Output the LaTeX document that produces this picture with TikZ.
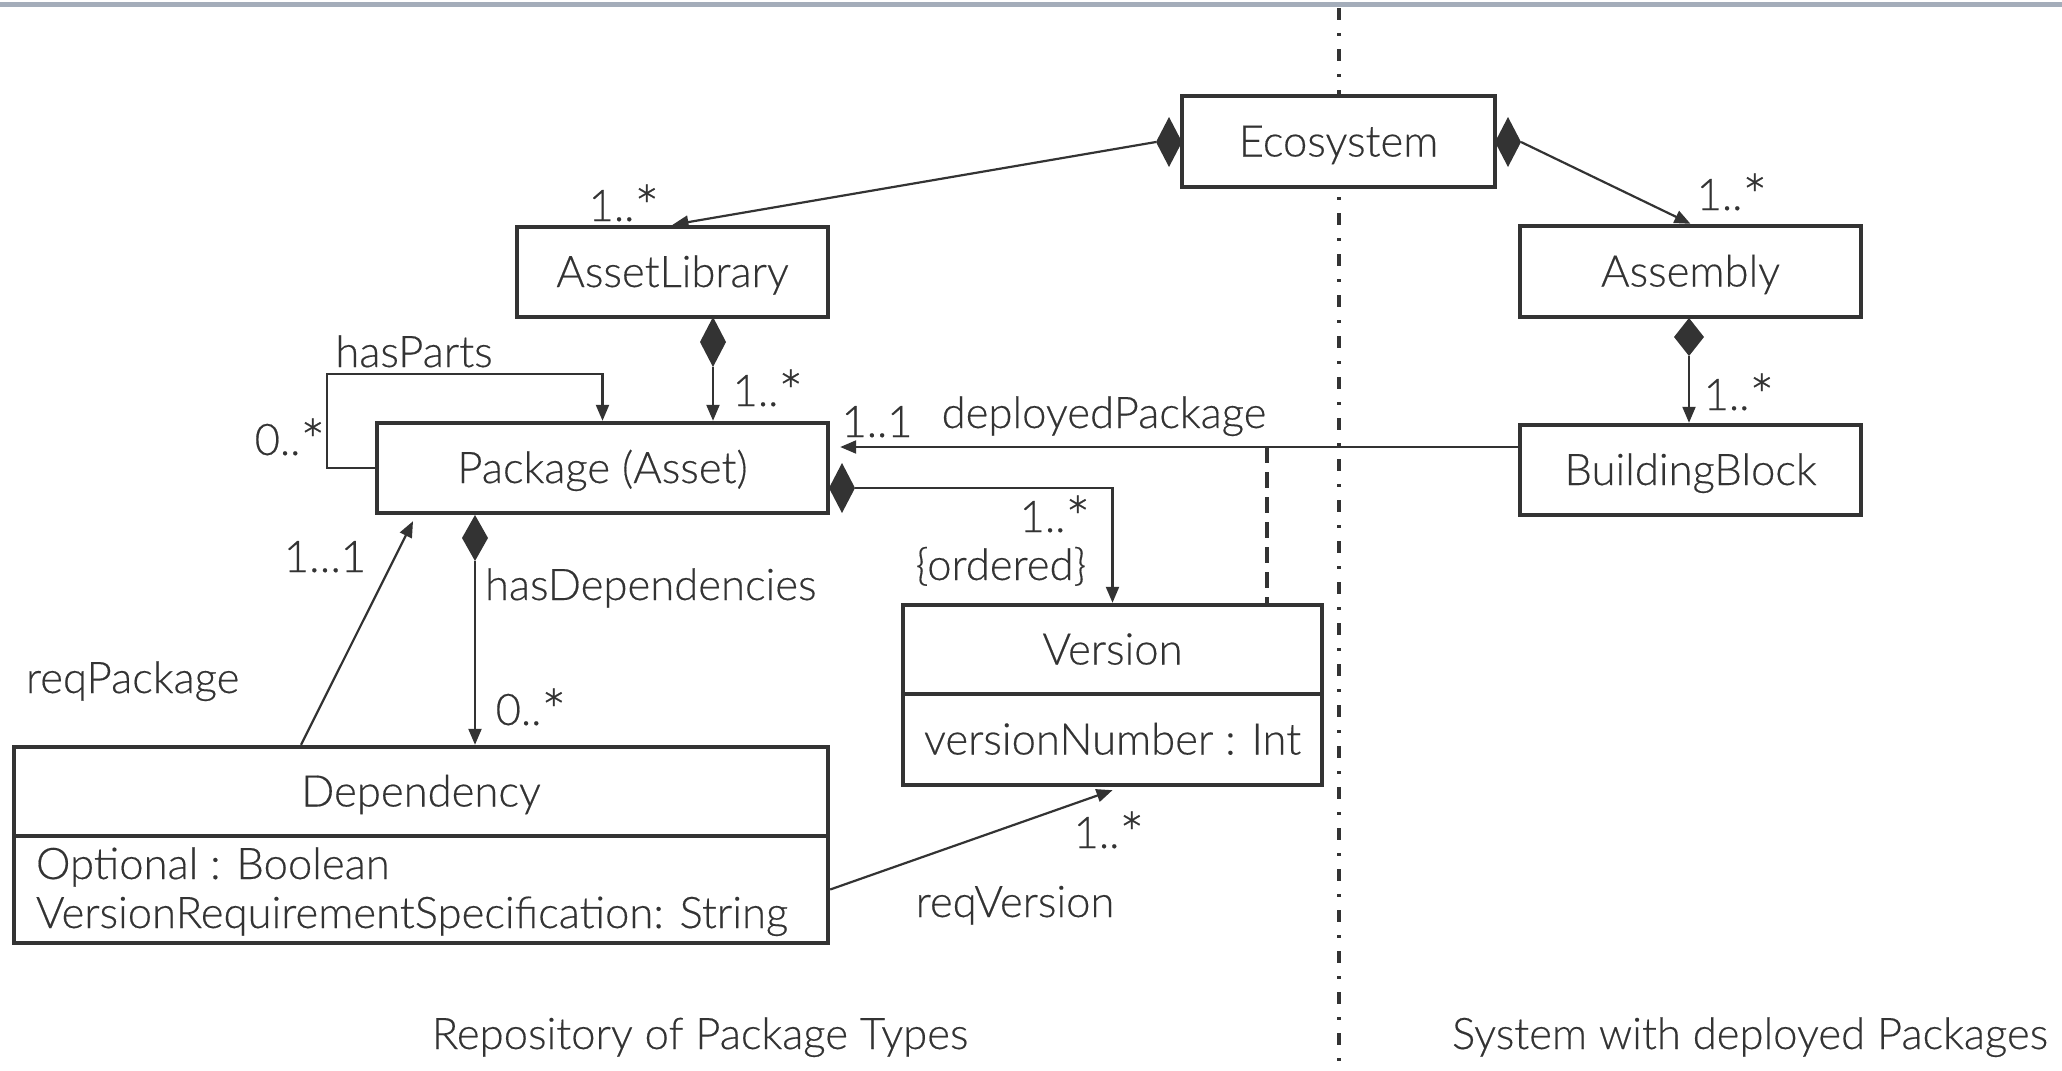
\documentclass[tikz,border=0pt]{standalone}
\usepackage{fontspec}
\setmainfont{Lato Light}[FakeBold=0.35]
\usetikzlibrary{arrows.meta,shapes.geometric,calc}
\definecolor{ink}{HTML}{333333}
\definecolor{barc}{HTML}{A4ADBA}
\newcommand\mstar{\raisebox{-0.17em}{\scalebox{1.35}{*}}}
\begin{document}
\begin{tikzpicture}[x=0.5pt,y=-0.5pt,
  every node/.style={text=ink, font=\fontsize{21.8pt}{26pt}\selectfont},
  cls/.style={draw=ink, line width=2.2pt, fill=white, inner sep=0pt, align=center,
    text height=18pt, text depth=3pt},
  dia/.style={diamond, fill=ink, draw=none, inner sep=0pt, outer sep=0pt},
  assoc/.style={draw=ink, line width=1.1pt, -{Triangle[length=8pt,width=6.5pt]}},
  lbl/.style={anchor=base, inner sep=0pt, outer sep=0pt},
]
\useasboundingbox (0,0) rectangle (2062,1071);
\fill[barc] (0,2) rectangle (2062,7);
% separator
\draw[ink, line width=1.8pt, dash pattern=on 6pt off 6.5pt on 1.5pt off 6.5pt] (1339,8) -- (1339,1071);

% classes
\node[cls, minimum width=156.5pt, minimum height=45.5pt] (eco) at (1338.5,141.5) {Ecosystem};
\node[cls, minimum width=155.5pt, minimum height=45pt] (al) at (672.5,272) {AssetLibrary};
\node[cls, minimum width=170.5pt, minimum height=45.5pt] (asm) at (1690.5,271.5) {Assembly};
\node[cls, minimum width=225.5pt, minimum height=45pt] (pkg) at (602.5,468) {Package (Asset)};
\node[cls, minimum width=170.5pt, minimum height=45pt] (bb) at (1690.5,470) {BuildingBlock};
\node[cls, minimum width=209.5pt, minimum height=44.5pt] (verh) at (1112.5,649.5) {Version};
\node[cls, minimum width=209.5pt, minimum height=45.5pt] (verb) at (1112.5,739.5) {versionNumber : Int};
\node[cls, minimum width=407pt, minimum height=44.5pt] (deph) at (421,791.5) {Dependency};
\node[cls, minimum width=407pt, minimum height=53.5pt] (depb) at (421,889.5) {};
\node[lbl, anchor=base west] (optb) at (36,879) {Optional : Boolean};
\node[lbl, anchor=base west] (vrs) at (36,928) {VersionRequirementSpecification: String};

% composition diamonds
\node[dia, minimum width=13pt, minimum height=25pt] (dEcoL) at (1169,142) {};
\node[dia, minimum width=13pt, minimum height=25pt] (dEcoR) at (1508,142) {};
\node[dia, minimum width=13pt, minimum height=25pt] (dAL) at (713,342) {};
\node[dia, minimum width=15pt, minimum height=19pt] (dAsm) at (1689,337) {};
\node[dia, minimum width=13pt, minimum height=25pt] (dPkgV) at (842,488) {};
\node[dia, minimum width=13pt, minimum height=23pt] (dPkgD) at (475,538) {};

% connectors
\draw[assoc] (dEcoL.west) -- (al.north);
\draw[assoc] (dEcoR.east) -- (asm.north);
\draw[assoc] (dAL.south) -- (dAL.south |- pkg.north);
\draw[assoc] (dAsm.south) -- (dAsm.south |- bb.north);
\draw[assoc] (pkg.west) -- ++(-48,0) |- ($(pkg.north)+(0,-47)$) -- (pkg.north);
\coordinate (dp) at (1267,447);
\draw[assoc, shorten >=5pt] (bb.west |- dp) -- (pkg.east |- dp);
\draw[ink, line width=1.8pt, dash pattern=on 8pt off 4.5pt] (dp) -- (dp |- verh.north);
\draw[assoc] (dPkgV.east) -| (verh.north);
\draw[assoc] (dPkgD.south) -- (dPkgD.south |- deph.north);
\draw[assoc] ([xshift=-60pt]deph.north) -- ([xshift=-94.75pt,yshift=-3pt]pkg.south);
\draw[assoc] (depb.east) -- ([yshift=-1.5pt]verb.south);

% labels
\node[lbl] (m1) at (624,221) {1..\mstar};
\node[lbl] (m2) at (1732,210) {1..\mstar};
\node[lbl] (m3) at (768,406) {1..\mstar};
\node[lbl] (hp) at (414,367) {hasParts};
\node[lbl] (m4) at (290,455) {0..\mstar};
\node[lbl] (m5) at (877,437) {1..1};
\node[lbl] (dpk) at (1104,428) {deployedPackage};
\node[lbl] (m6) at (1739,410) {1..\mstar};
\node[lbl] (m7) at (1055,532) {1..\mstar};
\node[lbl] (ord) at (1001,580) {\{ordered\}};
\node[lbl] (m8) at (325,572) {1…1};
\node[lbl, anchor=base west] (hd) at (485,600) {hasDependencies};
\node[lbl, anchor=base west] (rp) at (26,693) {reqPackage};
\node[lbl] (m9) at (531,725) {0..\mstar};
\node[lbl] (m10) at (1109,848) {1..\mstar};
\node[lbl] (rv) at (1015,917) {reqVersion};
\node[lbl] (rep) at (700,1049) {Repository of Package Types};
\node[lbl] (sys) at (1750,1049) {System with deployed Packages};
\end{tikzpicture}
\end{document}
